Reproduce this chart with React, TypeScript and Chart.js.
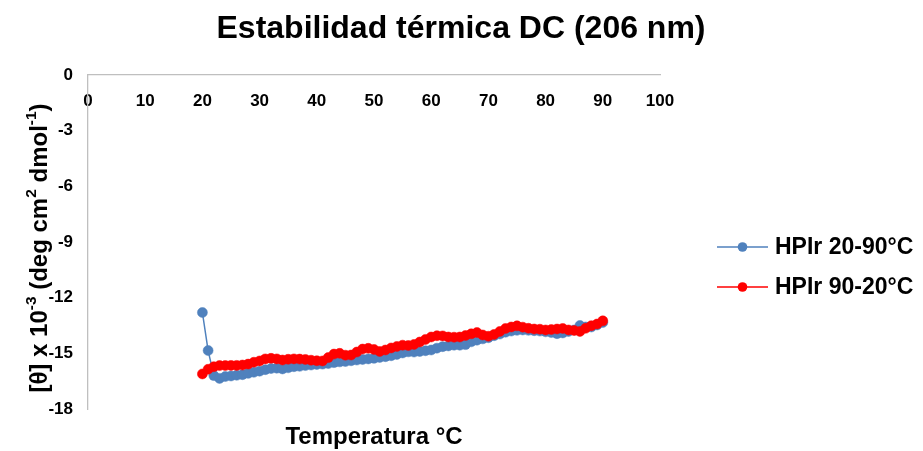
import { useEffect, useRef } from "react";
import { Chart, registerables } from "chart.js";

Chart.register(...registerables);

// Temperature (°C) of every reading
const temperatures = [
  20, 21, 22, 23, 24, 25, 26, 27, 28, 29, 30, 31, 32, 33, 34, 35, 36, 37, 38, 39,
  40, 41, 42, 43, 44, 45, 46, 47, 48, 49, 50, 51, 52, 53, 54, 55, 56, 57, 58, 59,
  60, 61, 62, 63, 64, 65, 66, 67, 68, 69, 70, 71, 72, 73, 74, 75, 76, 77, 78, 79,
  80, 81, 82, 83, 84, 85, 86, 87, 88, 89, 90,
];

// [θ] x 10^-3 while heating 20 → 90 °C
const heatingRamp = [
  -12.8, -14.85, -16.2, -16.35, -16.25, -16.22, -16.18, -16.15, -16.08, -16.02,
  -15.96, -15.88, -15.82, -15.8, -15.84, -15.78, -15.72, -15.7, -15.66, -15.63,
  -15.6, -15.58, -15.55, -15.5, -15.46, -15.44, -15.4, -15.36, -15.33, -15.3,
  -15.27, -15.22, -15.18, -15.13, -15.06, -14.98, -14.92, -14.93, -14.9, -14.86,
  -14.82, -14.72, -14.64, -14.6, -14.56, -14.56, -14.53, -14.38, -14.29, -14.22,
  -14.16, -14.05, -13.96, -13.86, -13.8, -13.76, -13.74, -13.76, -13.78, -13.8,
  -13.84, -13.88, -13.94, -13.9, -13.82, -13.74, -13.5, -13.58, -13.58, -13.47,
  -13.34,
];

// [θ] x 10^-3 while cooling 90 → 20 °C
const coolingRamp = [
  -16.11, -15.86, -15.72, -15.66, -15.66, -15.65, -15.65, -15.63, -15.58, -15.48,
  -15.41, -15.3, -15.27, -15.3, -15.36, -15.32, -15.3, -15.31, -15.33, -15.37,
  -15.4, -15.41, -15.23, -15.04, -15.0, -15.1, -15.09, -14.93, -14.77, -14.73,
  -14.79, -14.9, -14.82, -14.71, -14.63, -14.56, -14.58, -14.52, -14.39, -14.25,
  -14.12, -14.05, -14.06, -14.12, -14.13, -14.12, -14.04, -13.95, -13.88, -14.01,
  -14.08, -13.98, -13.82, -13.66, -13.58, -13.52, -13.59, -13.65, -13.69, -13.7,
  -13.74, -13.72, -13.69, -13.66, -13.74, -13.77, -13.82, -13.65, -13.51, -13.42,
  -13.25,
];

const seriesLabels = ["HPIr 20-90°C", "HPIr 90-20°C"];
const seriesColors = ["#4F81BD", "#FF0000"];
const xTickValues = [0, 10, 20, 30, 40, 50, 60, 70, 80, 90, 100];
const yTickValues = [0, -3, -6, -9, -12, -15, -18];

const chartTitle = "Estabilidad térmica DC (206 nm)";
const xAxisTitle = "Temperatura °C";
// y-axis title pieces; superscripts flagged
const yAxisTitle: { text: string; sup?: boolean }[] = [
  { text: "[θ] x 10" },
  { text: "-3", sup: true },
  { text: " (deg cm" },
  { text: "2", sup: true },
  { text: " dmol" },
  { text: "-1", sup: true },
  { text: ")" },
];

const FONT = "'Liberation Sans', Arial, Helvetica, sans-serif";
const AXIS_GRAY = "#BFBFBF";

const textPlugin = {
  id: "chartText",
  afterDraw(chart: any) {
    const { ctx, chartArea } = chart;
    ctx.save();
    ctx.fillStyle = "#000";
    ctx.textBaseline = "middle";

    // main title
    ctx.textAlign = "center";
    ctx.font = `bold 32px ${FONT}`;
    ctx.fillText(chartTitle, 461, 29);

    // x-axis title
    ctx.font = `bold 24px ${FONT}`;
    ctx.fillText(xAxisTitle, (chartArea.left + chartArea.right) / 2, 437);

    // rotated y-axis title with superscripts
    const base = 24;
    const supSize = 15.5;
    const widths = yAxisTitle.map((p) => {
      ctx.font = `bold ${p.sup ? supSize : base}px ${FONT}`;
      return ctx.measureText(p.text).width;
    });
    const total = widths.reduce((a, b) => a + b, 0);
    ctx.translate(40, 248);
    ctx.rotate(-Math.PI / 2);
    ctx.textAlign = "left";
    let cx = -total / 2;
    yAxisTitle.forEach((p, i) => {
      ctx.font = `bold ${p.sup ? supSize : base}px ${FONT}`;
      ctx.fillText(p.text, cx, p.sup ? -8 : 0);
      cx += widths[i];
    });
    ctx.setTransform(1, 0, 0, 1, 0, 0);

    // legend: line with marker, then label
    chart.data.datasets.forEach((ds: any, i: number) => {
      const y = 247 + i * 40;
      ctx.strokeStyle = ds.borderColor;
      ctx.lineWidth = 1.5;
      ctx.beginPath();
      ctx.moveTo(717, y);
      ctx.lineTo(768, y);
      ctx.stroke();
      ctx.fillStyle = ds.backgroundColor;
      ctx.beginPath();
      ctx.arc(742.5, y, 4.8, 0, Math.PI * 2);
      ctx.fill();
      ctx.fillStyle = "#000";
      ctx.textAlign = "left";
      ctx.font = `bold 23px ${FONT}`;
      ctx.fillText(ds.label, 775, y + 1);
    });
    ctx.restore();
  },
};

export default function App() {
  const canvasRef = useRef<HTMLCanvasElement | null>(null);

  useEffect(() => {
    const canvas = canvasRef.current;
    if (!canvas) return;
    const series = [heatingRamp, coolingRamp];
    const chart = new Chart(canvas, {
      type: "scatter",
      data: {
        datasets: series.map((values, i) => ({
          label: seriesLabels[i],
          data: temperatures.map((t, k) => ({ x: t, y: values[k] })),
          showLine: true,
          borderColor: seriesColors[i],
          backgroundColor: seriesColors[i],
          borderWidth: 1.5,
          pointRadius: 5,
          pointBorderWidth: 0.5,
          pointBorderColor: seriesColors[i],
          order: i === 0 ? 1 : 0,
        })),
      },
      options: {
        animation: false,
        responsive: false,
        devicePixelRatio: 1,
        layout: { padding: { left: 0, top: 75, right: 263, bottom: 42 } },
        plugins: {
          legend: { display: false },
          title: { display: false },
          tooltip: { enabled: false },
        },
        scales: {
          x: {
            type: "linear",
            position: { y: 0 } as any,
            min: 0,
            max: 100,
            afterBuildTicks: (scale: any) => {
              scale.ticks = xTickValues.map((v) => ({ value: v }));
            },
            afterFit: (scale: any) => {
              scale.height = 0;
            },
            grid: { display: false, drawTicks: false },
            border: { display: true, color: AXIS_GRAY, width: 1.3 },
            ticks: {
              padding: 16,
              color: "#000",
              font: { family: FONT, size: 17, weight: "bold" },
            },
          },
          y: {
            type: "linear",
            position: "left",
            min: -18,
            max: 0,
            afterBuildTicks: (scale: any) => {
              scale.ticks = yTickValues.map((v) => ({ value: v }));
            },
            afterFit: (scale: any) => {
              scale.width = 88;
            },
            grid: { display: false, drawTicks: false },
            border: { display: true, color: AXIS_GRAY, width: 1.3 },
            ticks: {
              padding: 15,
              color: "#000",
              font: { family: FONT, size: 17, weight: "bold" },
            },
          },
        },
      },
      plugins: [textPlugin],
    });
    return () => chart.destroy();
  }, []);

  return (
    <div style={{ position: "fixed", left: 0, top: 0, width: 923, height: 451, background: "#fff" }}>
      <canvas ref={canvasRef} width={923} height={451} />
    </div>
  );
}
